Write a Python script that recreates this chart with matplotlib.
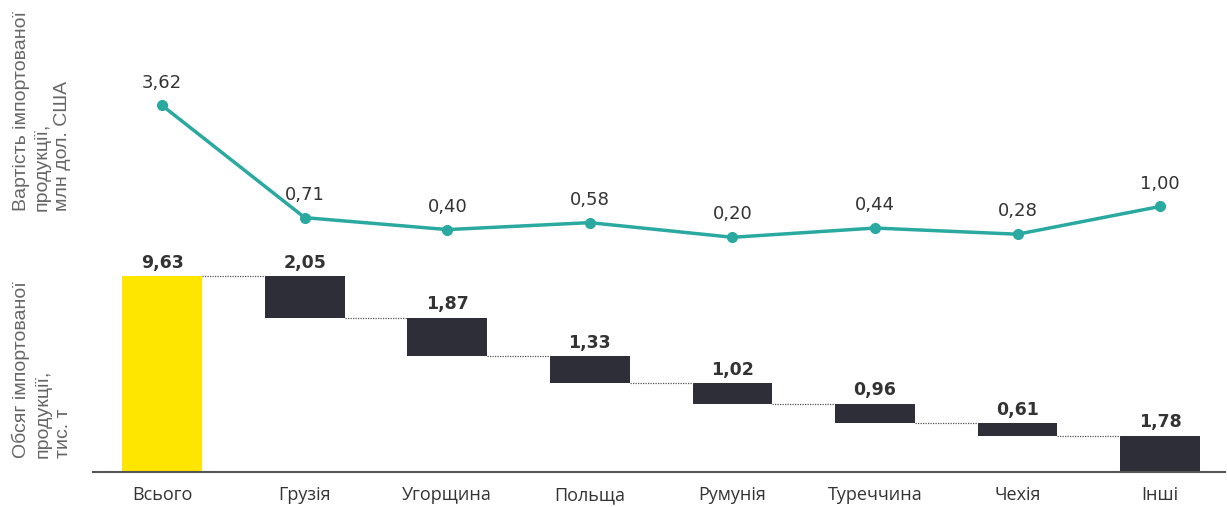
import matplotlib
matplotlib.use("Agg")
import matplotlib.pyplot as plt

# Дані
countries = ['Всього', 'Грузія', 'Угорщина', 'Польща', 'Румунія', 'Туреччина', 'Чехія', 'Інші']
value_usd = [3.62, 0.71, 0.40, 0.58, 0.20, 0.44, 0.28, 1.00]
volume_total = 9.63
volume_parts = [2.05, 1.87, 1.33, 1.02, 0.96, 0.61, 1.78]

TEAL = '#2AA9A0'
YELLOW = '#FFE600'
DARK = '#2E2E38'
TEXT = '#333333'

fig = plt.figure(figsize=(12.27, 5.07), dpi=100)
W, H = 1227, 507

x0, x1 = 93, 1225
xlim = (-0.485, 7.455)

# верхній графік: вартість
ax_top = fig.add_axes([x0 / W, (H - 245) / H, (x1 - x0) / W, 185 / H])
xs = list(range(len(countries)))
ax_top.plot(xs, value_usd, color=TEAL, lw=2.5, marker='o', ms=7, zorder=3)
for x, v in zip(xs, value_usd):
    ax_top.annotate(f'{v:.2f}'.replace('.', ','), (x, v), xytext=(0, 10),
                    textcoords='offset points', ha='center', va='bottom',
                    fontsize=13, color=TEXT, family='DejaVu Sans')
ax_top.set_xlim(*xlim)
ax_top.set_ylim(0, 4.8)
ax_top.axis('off')

# нижній графік: обсяг (водоспад)
ax = fig.add_axes([x0 / W, (H - 472) / H, (x1 - x0) / W, 222 / H])
width = 0.56
ax.bar(0, volume_total, width=width, color=YELLOW)
tops = [volume_total]
level = volume_total
for i, p in enumerate(volume_parts, start=1):
    bottom = max(level - p, 0)
    ax.bar(i, level - bottom, bottom=bottom, width=width, color=DARK)
    tops.append(level)
    level = bottom

labels = [volume_total] + volume_parts
for i, (t, v) in enumerate(zip(tops, labels)):
    ax.annotate(f'{v:.2f}'.replace('.', ','), (i, t), xytext=(0, 3),
                textcoords='offset points', ha='center', va='bottom',
                fontsize=12.5, color=TEXT, fontweight='bold', family='DejaVu Sans')

# пунктирні з'єднувачі
level = volume_total
for i, p in enumerate(volume_parts):
    ax.plot([i + width / 2, i + 1 - width / 2], [level, level], color='#555555',
            lw=0.9, ls=(0, (1, 1)))
    level = level - p

ax.set_xlim(*xlim)
ax.set_ylim(0, 10.9)
ax.set_yticks([])
ax.set_xticks(xs)
ax.set_xticklabels(countries, fontsize=13, color=TEXT, family='Open Sans')
ax.tick_params(axis='x', length=0, pad=10)
for s in ['top', 'right', 'left']:
    ax.spines[s].set_visible(False)
ax.spines['bottom'].set_color('#555555')
ax.spines['bottom'].set_linewidth(1.5)

fig.text(42 / W, (H - 111) / H,
         'Вартість імпортованої\nпродукції,\nмлн дол. США',
         rotation=90, ha='center', va='center', multialignment='left',
         fontsize=14, color='#666666', family='Liberation Sans', linespacing=1.3)
fig.text(42 / W, (H - 370) / H,
         'Обсяг імпортованої\nпродукції,\nтис. т',
         rotation=90, ha='center', va='center', multialignment='left',
         fontsize=14, color='#666666', family='Liberation Sans', linespacing=1.3)

fig.savefig('out.png', dpi=100)
